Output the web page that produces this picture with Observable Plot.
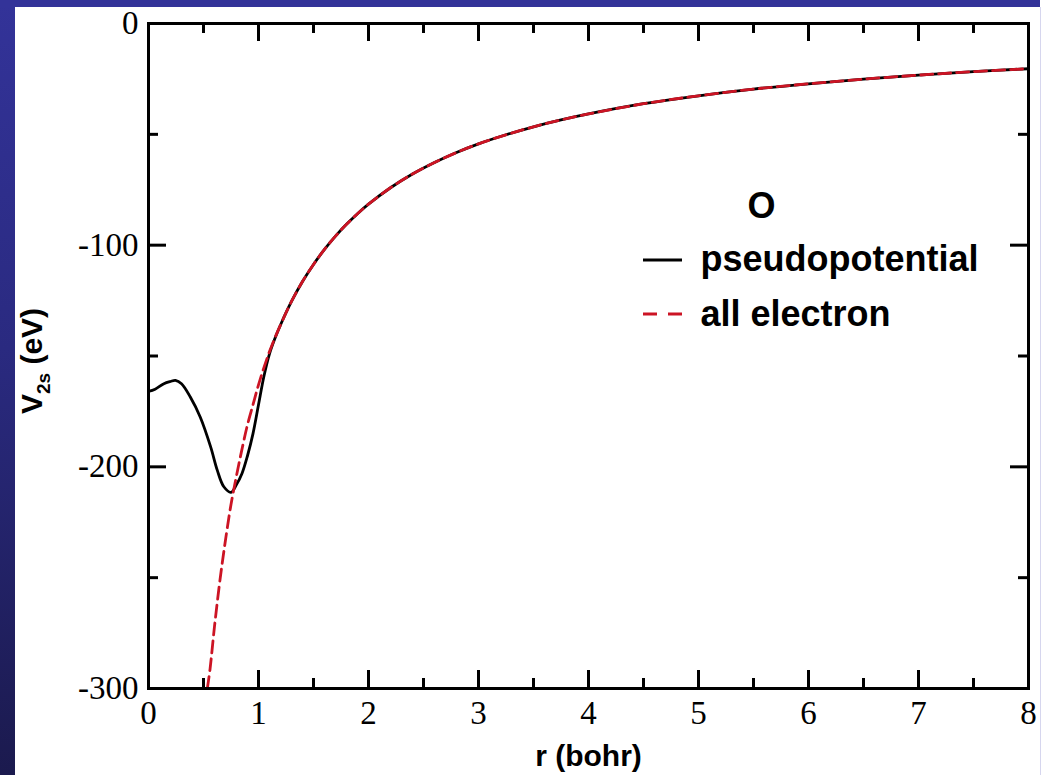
<!DOCTYPE html>
<html>
<head>
<meta charset="utf-8">
<script src="https://cdn.jsdelivr.net/npm/d3@7"></script>
<script src="https://cdn.jsdelivr.net/npm/@observablehq/plot@0.6"></script>
<style>
  html, body { margin: 0; padding: 0; background: #ffffff; }
  #wrap { position: relative; width: 1046px; height: 775px; overflow: hidden; background: #ffffff; }
  #leftbar { position: absolute; left: 0; top: 0; width: 15px; height: 775px;
    background: linear-gradient(to bottom, #333399 0%, #2a2a80 45%, #1b1a4e 100%); }
  #topbar { position: absolute; left: 0; top: 0; width: 1040px; height: 7px; background: #333399; }
  #rightline { position: absolute; left: 1040px; top: 7px; width: 1px; height: 768px; background: #d6d6ee; }
  #chart { position: absolute; left: 0; top: 0; }
</style>
</head>
<body>
<div id="wrap">
  <div id="leftbar"></div>
  <div id="topbar"></div>
  <div id="rightline"></div>
  <div id="chart"></div>
</div>
<script>
// ---- data ----
// all-electron potential (red dashed)
const aeR = [0.535, 0.56, 0.6, 0.65, 0.7, 0.75, 0.8, 0.85, 0.9, 0.95, 1.0, 1.1, 1.2, 1.3, 1.4, 1.5, 1.6, 1.7, 1.8, 1.9, 2.0, 2.2, 2.4, 2.6, 2.8, 3.0, 3.25, 3.5, 3.75, 4.0, 4.5, 5.0, 5.5, 6.0, 6.5, 7.0, 7.5, 8.0];
const aeV = [-300, -291, -272, -251, -233, -217, -204, -192, -181, -172, -163, -148, -136, -125.4, -116.4, -108.7, -101.9, -95.9, -90.6, -85.8, -81.5, -74.1, -67.9, -62.7, -58.2, -54.3, -50.2, -46.6, -43.5, -40.8, -36.2, -32.6, -29.6, -27.2, -25.1, -23.3, -21.7, -20.4];
// pseudopotential (black solid), core region; beyond r = 1.2 it follows the all-electron curve
const psR = [0, 0.06, 0.14, 0.2, 0.245, 0.3, 0.38, 0.47, 0.565, 0.625, 0.685, 0.75, 0.8, 0.85, 0.9, 0.95, 1.0, 1.05, 1.1, 1.15, 1.2];
const psV = [-166, -165, -162.5, -161.5, -161, -162.5, -168.5, -177.5, -191, -201.5, -209, -211.5, -208, -203, -195, -185, -172, -159, -149, -142, -136];

const xMajor = [0, 1, 2, 3, 4, 5, 6, 7, 8];
const xMinor = [0.5, 1.5, 2.5, 3.5, 4.5, 5.5, 6.5, 7.5];
const yMajor = [-300, -200, -100, 0];
const yMinor = [-250, -150, -50];

const elementLabel = "O";
const seriesNames = ["pseudopotential", "all electron"];
const xLabel = "r (bohr)";

// ---- build tables ----
const allElectron = aeR.map((r, i) => ({r, v: aeV[i]}));
const pseudo = psR.map((r, i) => ({r, v: psV[i]}))
  .concat(allElectron.filter(d => d.r > 1.2));

const W = 1046, H = 775;
const mL = 148, mR = 18, mT = 23, mB = 87;
const pW = W - mL - mR, pH = H - mT - mB;
const majorLen = 18, minorLen = 10;
const red = "#cc1424";
const serif = "'Liberation Serif', 'Times New Roman', serif";
const sans = "'Liberation Sans', Arial, sans-serif";

const chart = Plot.plot({
  width: W, height: H,
  marginLeft: mL, marginRight: mR, marginTop: mT, marginBottom: mB,
  style: {background: "transparent", overflow: "visible"},
  x: {domain: [0, 8]},
  y: {domain: [-300, 0]},
  marks: [
    Plot.line(pseudo, {x: "r", y: "v", stroke: "black", strokeWidth: 2.8, curve: "catmull-rom", clip: true}),
    Plot.line(allElectron, {x: "r", y: "v", stroke: red, strokeWidth: 2.8, strokeDasharray: "12,6", curve: "catmull-rom", clip: true}),
    // inward ticks on all four sides
    Plot.tickX(xMajor, {x: d => d, insetTop: pH - majorLen, stroke: "black", strokeWidth: 3}),
    Plot.tickX(xMinor, {x: d => d, insetTop: pH - minorLen, stroke: "black", strokeWidth: 3}),
    Plot.tickX(xMajor, {x: d => d, insetBottom: pH - majorLen, stroke: "black", strokeWidth: 3}),
    Plot.tickX(xMinor, {x: d => d, insetBottom: pH - minorLen, stroke: "black", strokeWidth: 3}),
    Plot.tickY(yMajor, {y: d => d, insetRight: pW - majorLen, stroke: "black", strokeWidth: 3}),
    Plot.tickY(yMinor, {y: d => d, insetRight: pW - minorLen, stroke: "black", strokeWidth: 3}),
    Plot.tickY(yMajor, {y: d => d, insetLeft: pW - majorLen, stroke: "black", strokeWidth: 3}),
    Plot.tickY(yMinor, {y: d => d, insetLeft: pW - minorLen, stroke: "black", strokeWidth: 3}),
    Plot.frame({stroke: "black", strokeWidth: 3}),
    // tick labels
    Plot.axisX(xMajor, {tickSize: 0, tickPadding: 12, fontSize: 33, fontFamily: serif, fill: "black", tickFormat: d => String(d), label: null}),
    Plot.axisY(yMajor, {tickSize: 0, tickPadding: 10, fontSize: 33, fontFamily: serif, fill: "black", tickFormat: d => String(d), label: null}),
    // x axis title
    Plot.text([xLabel], {text: d => d, frameAnchor: "bottom", dy: 68, lineAnchor: "middle", fontSize: 30, fontWeight: "bold", fontFamily: sans, fill: "black"}),
    // annotation + legend texts
    Plot.text([elementLabel], {text: d => d, frameAnchor: "top-left", dx: 761 - mL, dy: 217 - mT, lineAnchor: "bottom", textAnchor: "middle", fontSize: 36, fontWeight: "bold", fontFamily: sans, fill: "black"}),
    Plot.text([seriesNames[0]], {text: d => d, frameAnchor: "top-left", dx: 700 - mL, dy: 270 - mT, lineAnchor: "bottom", textAnchor: "start", fontSize: 36, fontWeight: "bold", fontFamily: sans, fill: "black"}),
    Plot.text([seriesNames[1]], {text: d => d, frameAnchor: "top-left", dx: 700 - mL, dy: 325 - mT, lineAnchor: "bottom", textAnchor: "start", fontSize: 36, fontWeight: "bold", fontFamily: sans, fill: "black"})
  ]
});

document.getElementById("chart").appendChild(chart);

// legend line samples and rotated y-axis title with subscript
const svg = d3.select(chart);
const lg = svg.append("g");
lg.append("line").attr("x1", 643).attr("x2", 682).attr("y1", 260).attr("y2", 260)
  .attr("stroke", "black").attr("stroke-width", 2.8);
lg.append("line").attr("x1", 643).attr("x2", 682).attr("y1", 314).attr("y2", 314)
  .attr("stroke", red).attr("stroke-width", 2.8).attr("stroke-dasharray", "14,11");

const yt = svg.append("text")
  .attr("transform", "translate(42,361) rotate(-90)")
  .attr("text-anchor", "middle")
  .attr("font-family", sans)
  .attr("font-weight", "bold")
  .attr("font-size", 30)
  .attr("fill", "black");
yt.append("tspan").text("V");
yt.append("tspan").attr("font-size", 19).attr("dy", 8).text("2s");
yt.append("tspan").attr("dy", -8).text(" (eV)");
</script>
</body>
</html>
